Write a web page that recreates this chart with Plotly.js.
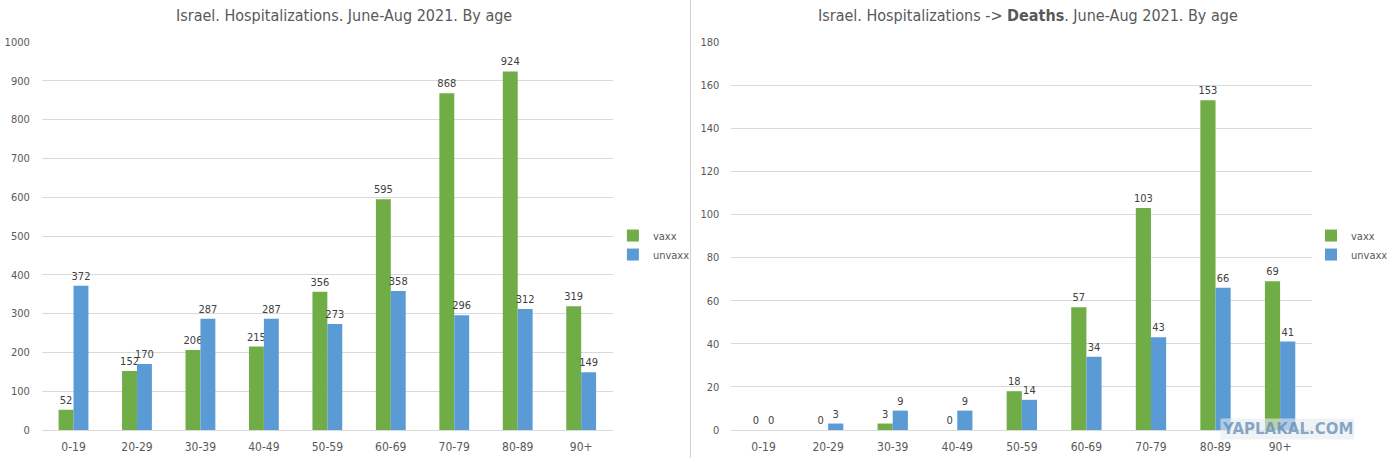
<!DOCTYPE html>
<html>
<head>
<meta charset="utf-8">
<script src="https://cdn.plot.ly/plotly-3.0.1.min.js"></script>
<style>
  body { margin: 0; background: #fff; overflow: hidden; }
  #graph { width: 1393px; height: 458px; }
</style>
</head>
<body>
<div id="graph"></div>
<script>
const ageGroups = ["0-19", "20-29", "30-39", "40-49", "50-59", "60-69", "70-79", "80-89", "90+"];
const hospVaxx = [52, 152, 206, 215, 356, 595, 868, 924, 319];
const hospUnvaxx = [372, 170, 287, 287, 273, 358, 296, 312, 149];
const deathsVaxx = [0, 0, 3, 0, 18, 57, 103, 153, 69];
const deathsUnvaxx = [0, 3, 9, 9, 14, 34, 43, 66, 41];

const green = "#70AD47";
const blue = "#5B9BD5";
const font = "'DejaVu Sans Condensed', 'Liberation Sans Narrow', Arial, sans-serif";
const grey = "#595959";

function barTrace(name, values, color, axis, legend) {
  return {
    type: "bar",
    name: name,
    x: ageGroups,
    y: values,
    xaxis: "x" + axis,
    yaxis: "y" + axis,
    legend: legend,
    marker: { color: color },
    text: values.map(String),
    textposition: "outside",
    constraintext: "none",
    cliponaxis: false,
    textfont: { size: 11, color: "#404040", family: font },
  };
}

const data = [
  barTrace("vaxx", hospVaxx, green, "", "legend"),
  barTrace("unvaxx", hospUnvaxx, blue, "", "legend"),
  barTrace("vaxx", deathsVaxx, green, "2", "legend2"),
  barTrace("unvaxx", deathsUnvaxx, blue, "2", "legend2"),
];

const yDomain = [28 / 458, 416 / 458];

function yAxis(max, step, anchor) {
  return {
    range: [0, max],
    dtick: step,
    domain: yDomain,
    anchor: anchor,
    showgrid: true,
    gridcolor: "#d9d9d9",
    zeroline: false,
    showline: false,
    ticks: "",
    ticklabelstandoff: 11,
    tickfont: { size: 11, color: grey, family: font },
  };
}

function xAxis(domain, anchor) {
  return {
    domain: domain,
    anchor: anchor,
    showline: true,
    linecolor: "#d9d9d9",
    ticks: "",
    ticklabelstandoff: 6,
    tickfont: { size: 12, color: grey, family: font },
  };
}

const legendStyle = {
  font: { size: 11, color: grey, family: font },
  tracegroupgap: 6,
  itemwidth: 30,
  bgcolor: "rgba(0,0,0,0)",
  xanchor: "left",
  yanchor: "middle",
  y: 0.465,
};

const layout = {
  width: 1393,
  height: 458,
  margin: { l: 0, r: 0, t: 0, b: 0 },
  paper_bgcolor: "#fff",
  plot_bgcolor: "#fff",
  font: { family: font, color: grey },
  barmode: "group",
  bargap: 0.53,
  bargroupgap: 0,
  xaxis: xAxis([42 / 1393, 616 / 1393], "y"),
  yaxis: yAxis(1000, 100, "x"),
  xaxis2: xAxis([735 / 1393, 1319 / 1393], "y2"),
  yaxis2: yAxis(180, 20, "x2"),
  legend: Object.assign({ x: 616 / 1393 }, legendStyle),
  legend2: Object.assign({ x: 1318 / 1393 }, legendStyle),
  annotations: [
    {
      text: "Israel. Hospitalizations. June-Aug 2021. By age",
      xref: "paper", yref: "paper", x: 346 / 1393, y: 1 - 15 / 458,
      xanchor: "center", yanchor: "middle",
      showarrow: false, font: { size: 16, color: grey, family: font },
    },
    {
      text: "Israel. Hospitalizations -> <b>Deaths</b>. June-Aug 2021. By age",
      xref: "paper", yref: "paper", x: 1033 / 1393, y: 1 - 15 / 458,
      xanchor: "center", yanchor: "middle",
      showarrow: false, font: { size: 16, color: grey, family: font },
    },
    {
      text: "<b>YAPLAKAL.COM</b>",
      xref: "paper", yref: "paper", x: 1294 / 1393, y: 1 - 429 / 458,
      xanchor: "center", yanchor: "middle",
      showarrow: false, bgcolor: "rgba(230,235,240,0.6)",
      font: { size: 15, color: "rgba(100,140,180,0.75)", family: "DejaVu Sans, sans-serif" },
    },
  ],
  shapes: [
    {
      type: "line", xref: "paper", yref: "paper",
      x0: 694 / 1393, x1: 694 / 1393, y0: 0, y1: 1,
      line: { color: "#d0d0d0", width: 1 },
    },
  ],
};

Plotly.newPlot("graph", data, layout, { staticPlot: true });
</script>
</body>
</html>
